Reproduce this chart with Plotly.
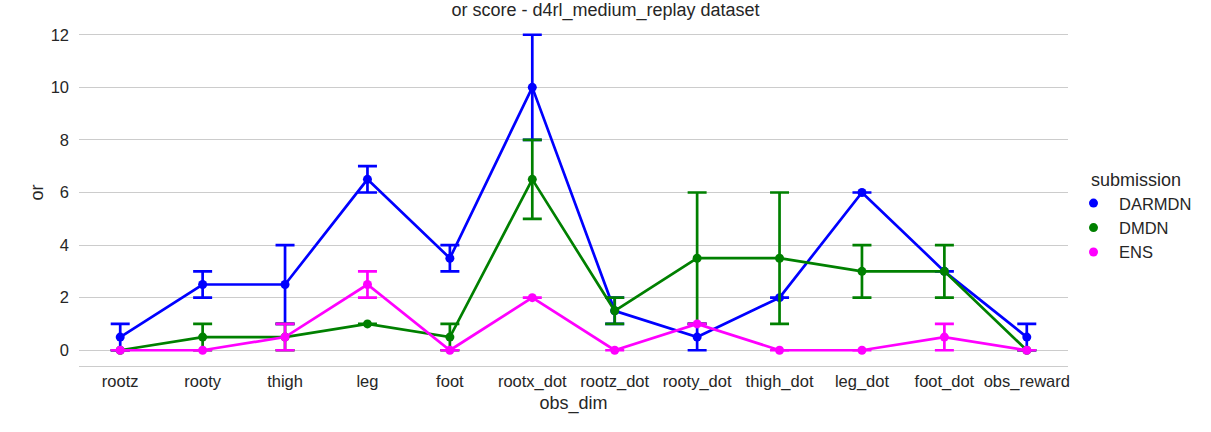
import plotly.graph_objects as go

# observation dimensions on the x axis
obs_dim = ["rootz", "rooty", "thigh", "leg", "foot", "rootx_dot", "rootz_dot",
           "rooty_dot", "thigh_dot", "leg_dot", "foot_dot", "obs_reward"]

# mean score and interval (low, high) per submission
darmdn_mean = [0.5, 2.5, 2.5, 6.5, 3.5, 10, 1.5, 0.5, 2, 6, 3, 0.5]
darmdn_low = [0, 2, 1, 6, 3, 8, 1, 0, 2, 6, 3, 0]
darmdn_high = [1, 3, 4, 7, 4, 12, 2, 1, 2, 6, 3, 1]

dmdn_mean = [0, 0.5, 0.5, 1, 0.5, 6.5, 1.5, 3.5, 3.5, 3, 3, 0]
dmdn_low = [0, 0, 0, 1, 0, 5, 1, 1, 1, 2, 2, 0]
dmdn_high = [0, 1, 1, 1, 1, 8, 2, 6, 6, 4, 4, 0]

ens_mean = [0, 0, 0.5, 2.5, 0, 2, 0, 1, 0, 0, 0.5, 0]
ens_low = [0, 0, 0, 2, 0, 2, 0, 1, 0, 0, 0, 0]
ens_high = [0, 0, 1, 3, 0, 2, 0, 1, 0, 0, 1, 0]

series = [
    ("DARMDN", "#0000ff", darmdn_mean, darmdn_low, darmdn_high),
    ("DMDN", "#008000", dmdn_mean, dmdn_low, dmdn_high),
    ("ENS", "#ff00ff", ens_mean, ens_low, ens_high),
]

fig = go.Figure()
for name, color, mean, low, high in series:
    fig.add_trace(go.Scatter(
        x=obs_dim, y=mean, mode="lines+markers", name=name, showlegend=False,
        line=dict(color=color, width=2.7),
        marker=dict(color=color, size=9),
        error_y=dict(type="data", symmetric=False,
                     array=[h - m for h, m in zip(high, mean)],
                     arrayminus=[m - l for m, l in zip(mean, low)],
                     color=color, thickness=2.7, width=9.5),
    ))

# legend shows markers only, like seaborn's pointplot
for name, color, *_ in series:
    fig.add_trace(go.Scatter(
        x=[None], y=[None], mode="markers", name=name,
        marker=dict(color=color, size=9),
    ))

fig.update_layout(
    width=1211, height=432,
    margin=dict(l=79, r=143, t=19, b=66, autoexpand=False),
    paper_bgcolor="white", plot_bgcolor="white",
    font=dict(family="Liberation Sans, Arial, sans-serif", size=16.5, color="#262626"),
    title=dict(text="or score - d4rl_medium_replay dataset", x=0.5, xanchor="center",
               y=0.993, yanchor="top", font=dict(size=18)),
    showlegend=True,
    legend=dict(x=1.0, xanchor="left", y=0.398, yanchor="middle",
                font=dict(size=16.5), itemwidth=41, tracegroupgap=0),
    annotations=[dict(text="submission", x=1.021, y=0.536, xref="paper", yref="paper",
                      xanchor="left", yanchor="middle", showarrow=False,
                      font=dict(size=18))],
)
fig.update_xaxes(
    type="category", range=[-0.5, 11.5],
    showgrid=False, showline=True, linecolor="#cccccc", linewidth=1.2,
    ticks="", tickfont=dict(size=16.5), ticklabelstandoff=0,
    title=dict(text="obs_dim", font=dict(size=18), standoff=6),
)
fig.update_yaxes(
    range=[-0.6, 12.6], dtick=2, tick0=0,
    showgrid=True, gridcolor="#cccccc", gridwidth=1,
    zeroline=False, showline=False, ticks="",
    tickfont=dict(size=16.5), ticklabelstandoff=9,
    title=dict(text="or", font=dict(size=18), standoff=2),
)

fig.write_html("out.html", config={"displayModeBar": False},
               post_script="document.body.style.margin='0';")
